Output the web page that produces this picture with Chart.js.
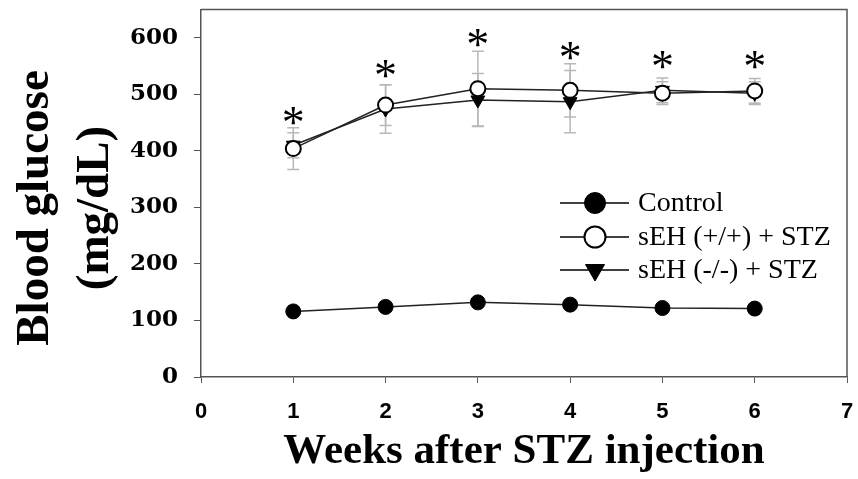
<!DOCTYPE html>
<html lang="en">
<head>
  <meta charset="UTF-8" />
  <title>Blood glucose after STZ</title>
  <script src="https://cdn.jsdelivr.net/npm/chart.js"></script>
  <style>
    body { margin: 0; background: #fff; }
    #wrap { width: 858px; height: 479px; }
  </style>
</head>
<body>
  <div id="wrap"><canvas id="glucoseChart" width="858" height="479"></canvas></div>

  <script>
    // weeks after STZ injection
    const weeks = [1, 2, 3, 4, 5, 6];

    // blood glucose means (mg/dL) and error bar half-widths
    const controlMean = [116, 124, 132, 128, 122, 121];
    const wtMean = [404, 481, 510, 507, 502, 506];
    const wtErr = [37, 36, 66, 47, 20, 22];
    const koMean = [410, 474, 490, 487, 507, 502];
    const koErr = [22, 43, 47, 55, 22, 20];

    // where the significance stars sit
    const starY = [462, 545, 599, 576, 560, 560];

    const seriesNames = ['Control', 'sEH (+/+) + STZ', 'sEH (-/-) + STZ'];
    const xTicks = [0, 1, 2, 3, 4, 5, 6, 7];
    const yTicks = [0, 100, 200, 300, 400, 500, 600];

    const toPts = arr => weeks.map((w, i) => ({ x: w, y: arr[i] }));

    // gray error bars under the lines
    const errorBars = {
      id: 'errorBars',
      beforeDatasetsDraw(chart) {
        const { ctx, scales: { x, y } } = chart;
        ctx.save();
        ctx.strokeStyle = '#b8b8b8';
        ctx.lineWidth = 1.5;
        [[wtMean, wtErr], [koMean, koErr]].forEach(([m, e]) => {
          weeks.forEach((w, i) => {
            const px = x.getPixelForValue(w);
            const top = y.getPixelForValue(m[i] + e[i]);
            const bot = y.getPixelForValue(m[i] - e[i]);
            ctx.beginPath();
            ctx.moveTo(px, top); ctx.lineTo(px, bot);
            ctx.moveTo(px - 6, top); ctx.lineTo(px + 6, top);
            ctx.moveTo(px - 6, bot); ctx.lineTo(px + 6, bot);
            ctx.stroke();
          });
        });
        ctx.restore();
      }
    };

    // box, stars, legend and y title
    const extras = {
      id: 'extras',
      afterDatasetsDraw(chart) {
        const { ctx, chartArea: a, scales: { x, y } } = chart;
        ctx.save();
        ctx.strokeStyle = '#555';
        ctx.lineWidth = 1.5;
        ctx.beginPath();
        ctx.moveTo(a.left, a.top); ctx.lineTo(a.right, a.top); ctx.lineTo(a.right, a.bottom);
        ctx.stroke();

        // stars
        ctx.fillStyle = '#000';
        ctx.font = '46px "Liberation Serif"';
        ctx.textAlign = 'center';
        ctx.textBaseline = 'alphabetic';
        const m = ctx.measureText('*');
        const shift = (m.actualBoundingBoxAscent - m.actualBoundingBoxDescent) / 2;
        weeks.forEach((w, i) => {
          ctx.fillText('*', x.getPixelForValue(w), y.getPixelForValue(starY[i]) + shift);
        });

        // legend
        const rows = [203, 237, 270];
        ctx.font = '28px "Liberation Serif"';
        ctx.textAlign = 'left';
        ctx.textBaseline = 'middle';
        chart.data.datasets.forEach((ds, i) => {
          const ry = rows[i];
          ctx.strokeStyle = '#000';
          ctx.lineWidth = 1.5;
          ctx.beginPath();
          ctx.moveTo(560, ry); ctx.lineTo(629, ry);
          ctx.stroke();
          ctx.fillStyle = ds.pointBackgroundColor;
          ctx.strokeStyle = '#000';
          ctx.lineWidth = ds.pointBorderWidth;
          Chart.helpers.drawPoint(ctx, {
            pointStyle: ds.pointStyle,
            rotation: ds.pointRotation || 0,
            radius: ds.pointRadius + 3,
            borderWidth: ds.pointBorderWidth
          }, 595, ry);
          ctx.fillStyle = '#000';
          ctx.fillText(ds.label, 638, ry + 1);
        });

        // y title
        ctx.font = 'bold 47px "Liberation Serif"';
        ctx.textAlign = 'center';
        ctx.textBaseline = 'middle';
        [['Blood glucose', 36], ['(mg/dL)', 96]].forEach(([t, tx]) => {
          ctx.save();
          ctx.translate(tx, 208);
          ctx.rotate(-Math.PI / 2);
          ctx.fillText(t, 0, 0);
          ctx.restore();
        });
        ctx.restore();
      }
    };

    new Chart(document.getElementById('glucoseChart'), {
      type: 'line',
      data: {
        datasets: [
          {
            label: seriesNames[0], data: toPts(controlMean),
            borderColor: '#222', borderWidth: 1.5,
            pointStyle: 'circle', pointRadius: 7.5, pointBackgroundColor: '#000',
            pointBorderColor: '#000', pointBorderWidth: 1
          },
          {
            label: seriesNames[1], data: toPts(wtMean),
            borderColor: '#222', borderWidth: 1.5,
            pointStyle: 'circle', pointRadius: 7.5, pointBackgroundColor: '#fff',
            pointBorderColor: '#000', pointBorderWidth: 2
          },
          {
            label: seriesNames[2], data: toPts(koMean),
            borderColor: '#222', borderWidth: 1.5,
            pointStyle: 'triangle', pointRotation: 180, pointRadius: 8,
            pointBackgroundColor: '#000', pointBorderColor: '#000', pointBorderWidth: 1
          }
        ]
      },
      options: {
        responsive: false,
        animation: false,
        layout: { padding: { top: 8, right: 11, left: 0, bottom: 0 } },
        plugins: { legend: { display: false }, tooltip: { enabled: false } },
        scales: {
          x: {
            type: 'linear', min: 0, max: 7,
            afterBuildTicks: s => { s.ticks = xTicks.map(v => ({ value: v })); },
            afterFit: s => { s.height = 102; s.paddingLeft = 0; s.paddingRight = 0; },
            border: { color: '#555', width: 1.5 },
            grid: { drawOnChartArea: false, tickLength: 6, color: '#555' },
            ticks: {
              color: '#000', padding: 16,
              font: { family: '"Liberation Sans"', weight: 'bold', size: 22 }
            },
            title: {
              display: true, text: 'Weeks after STZ injection', color: '#000',
              font: { family: '"Liberation Serif"', weight: 'bold', size: 43 },
              padding: { top: 0, bottom: 1 }
            }
          },
          y: {
            min: 0, max: 650,
            afterBuildTicks: s => { s.ticks = yTicks.map(v => ({ value: v })); },
            afterFit: s => { s.width = 201; s.paddingTop = 0; s.paddingBottom = 0; },
            border: { color: '#555', width: 1.5 },
            grid: { drawOnChartArea: false, tickLength: 7, color: '#555' },
            ticks: {
              color: '#000', padding: 16,
              font: { family: '"DejaVu Serif"', weight: 'bold', size: 23 }
            }
          }
        }
      },
      plugins: [errorBars, extras]
    });
  </script>
</body>
</html>
